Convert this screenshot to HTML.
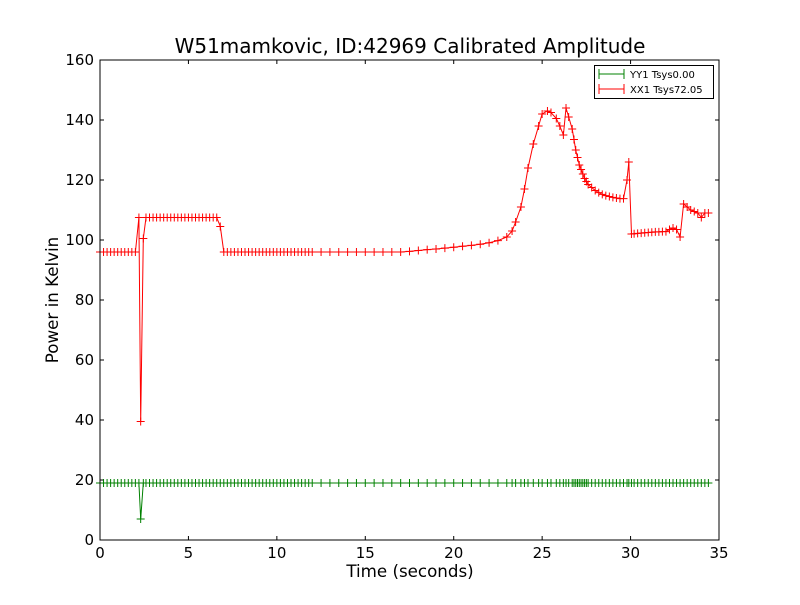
<!DOCTYPE html>
<html><head><meta charset="utf-8"><style>
body{margin:0;background:#fff;}
svg text{font-family:"DejaVu Sans","Liberation Sans",sans-serif;}
</style></head><body>
<svg id="chart" width="800" height="600" xmlns="http://www.w3.org/2000/svg">
<rect width="800" height="600" fill="#fff"/>
<text x="410" y="53" font-size="20" text-anchor="middle">W51mamkovic, ID:42969 Calibrated Amplitude</text>
<text x="410" y="577" font-size="16.7" text-anchor="middle">Time (seconds)</text>
<text transform="translate(58,300) rotate(-90)" font-size="16.7" text-anchor="middle">Power in Kelvin</text>
<g id="plot"></g>
<rect x="100" y="60" width="619" height="480" fill="none" stroke="#000" stroke-width="1"/>
<g>
<rect x="594.5" y="65.5" width="119" height="33" fill="#fff" stroke="#000"/>
<line x1="599" y1="74" x2="624" y2="74" stroke="green"/><line x1="599" y1="69" x2="599" y2="79" stroke="green"/><line x1="624" y1="69" x2="624" y2="79" stroke="green"/>
<text x="630" y="78" font-size="10">YY1 Tsys0.00</text>
<line x1="599" y1="89" x2="624" y2="89" stroke="red"/><line x1="599" y1="84" x2="599" y2="94" stroke="red"/><line x1="624" y1="84" x2="624" y2="94" stroke="red"/>
<text x="630" y="93" font-size="10">XX1 Tsys72.05</text>
</g>
</svg>
<script>
const xTicks=[0,5,10,15,20,25,30,35];
const yTicks=[0,20,40,60,80,100,120,140,160];
const times=[0,0.2,0.4,0.6,0.8,1.0,1.2,1.4,1.6,1.8,2.0,2.2,2.3,2.45,2.6,2.8,3.0,3.2,3.4,3.6,3.8,4.0,4.2,4.4,4.6,4.8,5.0,5.2,5.4,5.6,5.8,6.0,6.2,6.4,6.6,6.8,7.0,7.2,7.4,7.6,7.8,8.0,8.2,8.4,8.6,8.8,9.0,9.2,9.4,9.6,9.8,10.0,10.2,10.4,10.6,10.8,11.0,11.2,11.4,11.6,11.8,12.0,12.5,13,13.5,14,14.5,15,15.5,16,16.5,17,17.5,18,18.5,19,19.5,20,20.5,21,21.5,22,22.5,23,23.3,23.5,23.8,24,24.2,24.5,24.8,25,25.3,25.5,25.8,26,26.2,26.35,26.5,26.7,26.8,26.9,27.0,27.1,27.2,27.3,27.4,27.5,27.6,27.8,28.0,28.2,28.4,28.6,28.8,29,29.2,29.4,29.6,29.8,29.9,30.05,30.2,30.4,30.6,30.8,31,31.2,31.4,31.6,31.8,32,32.2,32.4,32.6,32.8,33,33.2,33.4,33.6,33.8,34,34.2,34.4];
const xx1=[96,96,96,96,96,96,96,96,96,96,96,107.5,39.5,100.5,107.5,107.5,107.5,107.5,107.5,107.5,107.5,107.5,107.5,107.5,107.5,107.5,107.5,107.5,107.5,107.5,107.5,107.5,107.5,107.5,107.5,104.5,96,96,96,96,96,96,96,96,96,96,96,96,96,96,96,96,96,96,96,96,96,96,96,96,96,96,96,96,96,96,96,96,96,96,96,96,96.2,96.5,96.8,97,97.3,97.6,97.9,98.2,98.6,99.1,99.8,101,103,106,111,117,124,132,138,142,143,142.5,140.5,138,135,144,141,137,133.5,130,127.5,125,123.5,122,120.5,119.5,118.5,117.5,116.5,115.8,115.2,114.8,114.5,114.2,114,113.8,113.8,120,126,102,102.1,102.2,102.3,102.4,102.5,102.6,102.7,102.7,102.8,102.8,103.5,104,103.5,101,112,111,110,109.5,109,107.5,109,109];
const yy1=[19,19,19,19,19,19,19,19,19,19,19,19,7,19,19,19,19,19,19,19,19,19,19,19,19,19,19,19,19,19,19,19,19,19,19,19,19,19,19,19,19,19,19,19,19,19,19,19,19,19,19,19,19,19,19,19,19,19,19,19,19,19,19,19,19,19,19,19,19,19,19,19,19,19,19,19,19,19,19,19,19,19,19,19,19,19,19,19,19,19,19,19,19,19,19,19,19,19,19,19,19,19,19,19,19,19,19,19,19,19,19,19,19,19,19,19,19,19,19,19,19,19,19,19,19,19,19,19,19,19,19,19,19,19,19,19,19,19,19,19,19,19,19,19,19,19];
const NS="http://www.w3.org/2000/svg";
const X=v=>100+v*619/35, Y=v=>540-v*3;
const g=document.getElementById('plot');
function mk(t,a){const e=document.createElementNS(NS,t);for(const k in a)e.setAttribute(k,a[k]);g.appendChild(e);return e;}
xTicks.forEach(t=>{const x=X(t);
 const l=mk('path',{d:`M${x},540v-4M${x},60v4`,stroke:'#000'});
 
 
 const tx=mk('text',{x:x,y:558,'font-size':15,'text-anchor':'middle'});tx.textContent=t;
 
 });
yTicks.forEach(t=>{const y=Y(t);
 const l=mk('path',{d:`M100,${y}h4M719,${y}h-4`,stroke:'#000'});
 
 
 const tx=mk('text',{x:94,y:y+5,'font-size':15,'text-anchor':'end'});tx.textContent=t;
 
 });
function series(vals,color,name){
 const d=times.map((t,i)=>(i?'L':'M')+X(t).toFixed(1)+','+Y(vals[i]).toFixed(1)).join('');
 const p=mk('path',{d:d,fill:'none',stroke:color,'stroke-width':1});
 
 
 const m=times.map((t,i)=>{const x=X(t),y=Y(vals[i]);return `M${x-4},${y}h8M${x},${y-4}v8`;}).join('');
 const q=mk('path',{d:m,stroke:color,'stroke-width':1});
 
 
}
series(yy1,'green','yy1');
series(xx1,'red','xx1');
</script>
</body></html>
